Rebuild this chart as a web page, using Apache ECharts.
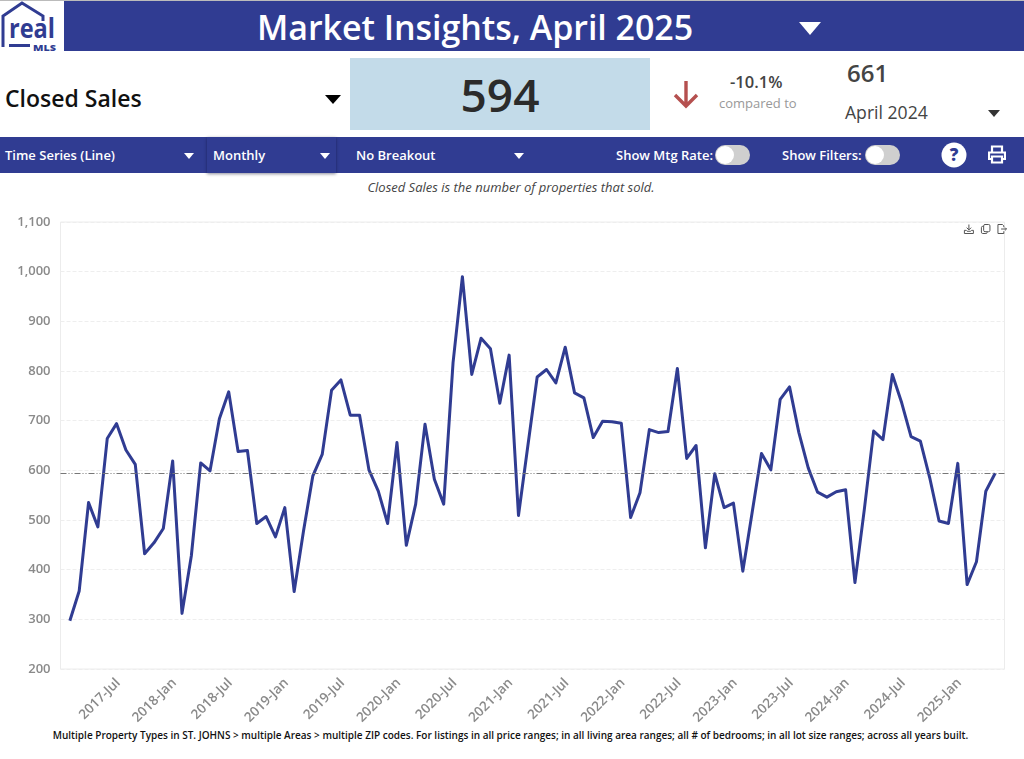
<!DOCTYPE html>
<html>
<head>
<meta charset="utf-8">
<title>Market Insights, April 2025</title>
<script src="https://cdn.jsdelivr.net/npm/echarts@6/dist/echarts.min.js"></script>
<style>
html, body { margin: 0; padding: 0; background: #fff; }
body { width: 1024px; height: 759px; position: relative; overflow: hidden; font-family: "Open Sans", sans-serif; }
div.abs, span.abs { position: absolute; white-space: nowrap; }
.band { background: #303c92; }
.white { color: #fff; font-weight: 600; font-size: 13px; line-height: 18px; }
.tri { position: absolute; width: 0; height: 0; border-left: 5px solid transparent; border-right: 5px solid transparent; border-top: 6px solid #fff; }
.toggle { position: absolute; width: 35px; height: 20px; border-radius: 10px; background: #cfcfcf; top: 145px; }
.toggle i { position: absolute; left: 1px; top: 1px; width: 18px; height: 18px; border-radius: 9px; background: #fff; }
#chart { position: absolute; left: 0; top: 200px; width: 1024px; height: 525px; }
</style>
</head>
<body>
<svg style="position:absolute;left:0;top:0" width="62" height="52" viewBox="0 0 62 52">
	<path d="M3 47 V16 L22 3 L43 16 V21" fill="none" stroke="#303c92" stroke-width="3"/>
	<text x="9" y="38" font-family="Open Sans" font-weight="700" font-size="26" fill="#303c92" textLength="46" lengthAdjust="spacingAndGlyphs">real</text>
	<rect x="9" y="44" width="21" height="3" fill="#303c92"/>
	<text x="33" y="51" font-family="Open Sans" font-weight="800" font-size="9.5" fill="#303c92" textLength="23" lengthAdjust="spacingAndGlyphs">MLS</text>
</svg>
<div class="abs band" style="left:64px;top:1px;width:960px;height:50px"></div>
<div class="abs" style="left:0;top:0;width:1024px;height:1px;background:#bbb"></div>
<div class="abs" style="left:257px;top:4px;color:#fff;font-size:34px;line-height:46px;font-weight:600;letter-spacing:-.05px">Market Insights, April 2025</div>
<div class="tri" style="left:799px;top:22px;border-left-width:11px;border-right-width:11px;border-top-width:13px"></div>

<div class="abs" style="left:5px;top:83px;font-size:23px;line-height:30px;font-weight:600;color:#111">Closed Sales</div>
<div class="tri" style="left:325px;top:95px;border-left-width:8px;border-right-width:8px;border-top-width:9px;border-top-color:#000"></div>
<div class="abs" style="left:350px;top:58px;width:300px;height:72px;background:#c3dbe9"></div>
<div class="abs" style="left:350px;top:64px;width:300px;text-align:center;font-size:46px;line-height:60px;font-weight:600;color:#2b2b2b">594</div>
<svg style="position:absolute;left:672px;top:78px" width="28" height="32" viewBox="0 0 28 32">
	<path d="M14 3 V28 M3 17 L14 28 L25 17" fill="none" stroke="#b5504f" stroke-width="3.4"/>
</svg>
<div class="abs" style="left:730px;top:72px;font-size:16.5px;line-height:20px;font-weight:600;color:#444">-10.1%</div>
<div class="abs" style="left:719px;top:94px;font-size:13px;line-height:18px;color:#999">compared to</div>
<div class="abs" style="left:847px;top:56px;font-size:24px;line-height:33px;font-weight:600;color:#444">661</div>
<div class="abs" style="left:845px;top:100px;font-size:17.6px;line-height:25px;color:#444">April 2024</div>
<div class="tri" style="left:988px;top:110px;border-left-width:6px;border-right-width:6px;border-top-width:7px;border-top-color:#333"></div>

<div class="abs band" style="left:0;top:137px;width:1024px;height:36px"></div>
<div class="abs band" style="left:207px;top:137px;width:129px;height:36px;box-shadow:0 1px 3px rgba(0,0,30,.45)"></div>
<div class="abs white" style="left:5px;top:146px">Time Series (Line)</div>
<div class="tri" style="left:184px;top:153px"></div>
<div class="abs white" style="left:213px;top:146px">Monthly</div>
<div class="tri" style="left:320px;top:153px"></div>
<div class="abs white" style="left:356px;top:146px">No Breakout</div>
<div class="tri" style="left:514px;top:153px"></div>
<div class="abs white" style="left:616px;top:146px">Show Mtg Rate:</div>
<div class="toggle" style="left:715px"><i></i></div>
<div class="abs white" style="left:782px;top:146px">Show Filters:</div>
<div class="toggle" style="left:865px"><i></i></div>
<svg style="position:absolute;left:941px;top:142px" width="26" height="26" viewBox="0 0 26 26">
	<circle cx="13" cy="13" r="12.5" fill="#fff"/>
	<text x="13" y="19" text-anchor="middle" font-family="Open Sans" font-weight="800" font-size="17" fill="#303c92">?</text>
</svg>
<svg style="position:absolute;left:988px;top:145px" width="18" height="19" viewBox="0 0 18 19">
	<path d="M4 7 V1.5 H14 V7 M4 14 H1 V7.5 H17 V14 H14 M4 11.5 H14 V17.5 H4 Z" fill="none" stroke="#fff" stroke-width="2.2"/>
</svg>

<div class="abs" style="left:0;top:178px;width:1022px;text-align:center;font-size:13px;line-height:18px;font-style:italic;color:#444">Closed Sales is the number of properties that sold.</div>

<div id="chart"></div>

<div class="abs" style="left:0;top:727px;width:1021px;text-align:center;font-size:10px;line-height:16px;font-weight:600;color:#111">Multiple Property Types in ST. JOHNS &gt; multiple Areas &gt; multiple ZIP codes. For listings in all price ranges; in all living area ranges; all # of bedrooms; in all lot size ranges; across all years built.</div>

<script>
var monthNames = ['Jan','Feb','Mar','Apr','May','Jun','Jul','Aug','Sep','Oct','Nov','Dec'];

// monthly closed sales, 2017-Jan to 2025-Apr
var closedSales = [
	297, 357, 535, 486, 664, 694, 641, 612, 432, 454, 483, 619,
	312, 428, 615, 599, 704, 758, 638, 640, 493, 507, 466, 525,
	356, 478, 589, 632, 761, 782, 711, 711, 601, 558, 493, 656,
	449, 532, 693, 582, 532, 817, 990, 793, 866, 845, 735, 832,
	509, 649, 788, 803, 776, 848, 756, 746, 666, 699, 698, 695,
	505, 555, 682, 676, 678, 805, 624, 650, 444, 593, 525, 534,
	397, 515, 634, 601, 743, 768, 676, 605, 556, 546, 557, 561,
	374, 521, 679, 662, 793, 736, 668, 659, 585, 498, 493, 614,
	370, 416, 558, 594
];
var tickLabels = ['2017-Jul','2018-Jan','2018-Jul','2019-Jan','2019-Jul','2020-Jan','2020-Jul','2021-Jan','2021-Jul','2022-Jan','2022-Jul','2023-Jan','2023-Jul','2024-Jan','2024-Jul','2025-Jan'];
var currentValue = 594;

// one empty month either side so the line sits in from the plot edges
var categories = ['2016-Dec'];
for (var i = 0; i < closedSales.length; i++) {
	categories.push((2017 + Math.floor(i / 12)) + '-' + monthNames[i % 12]);
}
categories.push('2025-May');
var seriesData = [null].concat(closedSales, [null]);

var chart = echarts.init(document.getElementById('chart'));
var iconColor = '#555';
var option = {
	animation: false,
	grid: { left: 60.5, right: 19.5, top: 22, bottom: 56, outerBoundsMode: 'none' },
	toolbox: {
		right: 0,
		top: 7,
		itemSize: 9,
		itemGap: 3,
		iconStyle: { color: 'none', borderColor: iconColor, borderWidth: 1 },
		feature: {
			myDownload: { show: true, title: 'Download', onclick: function() {},
				icon: 'path://M5 0V6M2.5 3.5L5 6L7.5 3.5M0 6.5H2L3 7.5H7L8 6.5H10V10H0Z' },
			myCopy: { show: true, title: 'Copy', onclick: function() {},
				icon: 'path://M3 1.5A1.5 1.5 0 0 1 4.5 0H8.5A1.5 1.5 0 0 1 10 1.5V6.5A1.5 1.5 0 0 1 8.5 8H4.5A1.5 1.5 0 0 1 3 6.5ZM3 2H2A1.5 1.5 0 0 0 0.5 3.5V8.5A1.5 1.5 0 0 0 2 10H5.5A1.5 1.5 0 0 0 7 8.5' },
			myExport: { show: true, title: 'Export', onclick: function() {},
				icon: 'path://M7 3V1.5L5.5 0H0.5V10H7V7.5M4 5H10M8.5 3.5L10 5L8.5 6.5' }
		}
	},
	xAxis: {
		type: 'category',
		data: categories,
		boundaryGap: false,
		axisLine: { show: false },
		axisTick: { show: false },
		splitLine: { show: false },
		axisLabel: {
			interval: function(index, value) { return tickLabels.indexOf(value) >= 0; },
			rotate: 45,
			margin: 4,
			padding: [0, 11, 0, 0],
			color: '#8a8a8a',
			fontFamily: 'Open Sans',
			fontSize: 13.5,
			fontWeight: 600,
			hideOverlap: false
		}
	},
	yAxis: {
		type: 'value',
		min: 200,
		max: 1100,
		interval: 100,
		axisLine: { show: false },
		axisTick: { show: false },
		axisLabel: {
			margin: 10,
			color: '#8a8a8a',
			fontFamily: 'Open Sans',
			fontSize: 13,
			fontWeight: 600,
			formatter: function(v) { return v.toLocaleString('en-US'); }
		},
		splitLine: { lineStyle: { color: '#eeeeee', width: 1, type: 'dashed' } }
	},
	series: [
		{
			name: 'Closed Sales',
			type: 'line',
			data: seriesData,
			showSymbol: false,
			connectNulls: false,
			lineStyle: { color: '#303c92', width: 3, join: 'round' },
			itemStyle: { color: '#303c92' },
			markLine: {
				silent: true,
				symbol: 'none',
				label: { show: false },
				data: [{ yAxis: currentValue }],
				lineStyle: { color: '#777', width: 1, type: [6, 2, 1, 2, 1, 2] }
			}
		}
	],
	graphic: [
		{ type: 'rect', silent: true, z: 0, shape: { x: 60.5, y: 22, width: 944, height: 447 },
			style: { fill: 'none', stroke: '#ececec', lineWidth: 1 } }
	]
};
chart.setOption(option);
</script>
</body>
</html>
